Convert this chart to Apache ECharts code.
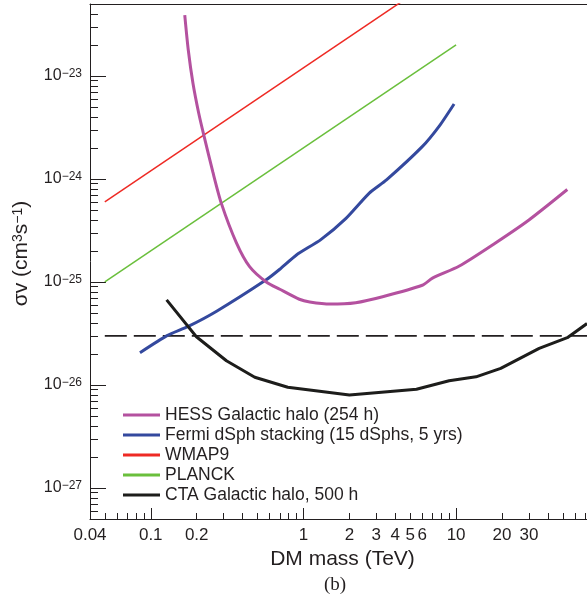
<!DOCTYPE html>
<html>
<head>
<meta charset="utf-8">
<script src="https://cdn.jsdelivr.net/npm/echarts@6/dist/echarts.min.js"></script>
<style>html,body{margin:0;padding:0;background:#fff}#c{width:587px;height:608px}</style>
</head>
<body>
<div id="c"></div>
<script>
// ---- data (x: DM mass in TeV, y: <sigma v> in cm^3 s^-1) ----
const hessX = [0.167, 0.176, 0.189, 0.206, 0.224, 0.255, 0.29, 0.364, 0.444, 0.571, 0.70, 0.94, 1.1, 1.5, 2.2, 3.3, 6.0, 7.0, 10.5, 18, 30, 53.5];
const hessY = [3.9e-23, 1.8e-23, 8.5e-24, 4.37e-24, 2.56e-24, 1.17e-24, 5.8e-25, 2.4e-25, 1.41e-25, 1.0e-25, 8.5e-26, 6.8e-26, 6.4e-26, 6.1e-26, 6.3e-26, 7.2e-26, 9.3e-26, 1.09e-25, 1.43e-25, 2.38e-25, 4.0e-25, 7.9e-25];

const fermiX = [0.085, 0.127, 0.176, 0.27, 0.57, 0.70, 0.90, 1.3, 1.9, 2.7, 3.5, 6.0, 7.8, 9.7];
const fermiY = [2.06e-26, 3.0e-26, 3.7e-26, 5.2e-26, 1.05e-25, 1.33e-25, 1.83e-25, 2.58e-25, 4.15e-25, 7.3e-25, 9.8e-25, 2.06e-24, 3.3e-24, 5.35e-24];

const wmapX = [0.05, 10];
const wmapY = [6e-25, 1.2e-22];

const planckX = [0.05, 10];
const planckY = [1e-25, 2e-23];

const ctaX = [0.127, 0.199, 0.313, 0.48, 0.79, 2.0, 5.5, 9.0, 13.5, 19.6, 35, 53.5, 72];
const ctaY = [6.7e-26, 2.94e-26, 1.72e-26, 1.19e-26, 9.5e-27, 8.0e-27, 9.1e-27, 1.1e-26, 1.2e-26, 1.45e-26, 2.27e-26, 2.88e-26, 3.95e-26];

const thermalX = [0.05, 100];
const thermalY = [3e-26, 3e-26];

const seriesNames = ['HESS Galactic halo (254 h)', 'Fermi dSph stacking (15 dSphs, 5 yrs)', 'WMAP9', 'PLANCK', 'CTA Galactic halo, 500 h'];

// ---- axes ----
const xMin = 0.04, xMax = 72;
const yMin = 5e-28, yMax = 5e-23;
const xLabelValues = [0.04, 0.1, 0.2, 1, 2, 3, 4, 5, 6, 10, 20, 30];
const xLabelTexts = ['0.04', '0.1', '0.2', '1', '2', '3', '4', '5', '6', '10', '20', '30'];
const xMajorTicks = [0.1, 1, 10];
const yMajorExp = [-27, -26, -25, -24, -23];

// y values are handed to the axis in units of 1e-28 cm^3 s^-1 (avoids float rounding in the log scale)
const YS = 1e28;
const sy = v => v * YS;

const xMinorTicks = [];
[0.01, 0.1, 1, 10].forEach(d => { for (let k = 2; k <= 9; k++) { const v = +(k * d).toPrecision(6); if (v > xMin && v < xMax && xMajorTicks.indexOf(v) < 0) xMinorTicks.push(v); } });
const yMajorTicks = yMajorExp.map(e => +(Math.pow(10, e + 28)).toPrecision(6));
const yMinorTicks = [];
for (let e = -28; e <= -23; e++) { for (let k = 2; k <= 9; k++) { const v = +(k * Math.pow(10, e + 28)).toPrecision(6); if (v > sy(yMin) * 0.999 && v < sy(yMax) * 0.999) yMinorTicks.push(v); } }

const pairs = (xs, ys) => xs.map((x, i) => [x, sy(ys[i])]);

const FONT = 'Liberation Sans, Arial, Helvetica, sans-serif';
const TXT = '#231f20';

const chart = echarts.init(document.getElementById('c'), null, { renderer: 'canvas' });

const baseX = { type: 'log', logBase: 10, min: xMin, max: xMax, gridIndex: 0, splitLine: { show: false } };
const baseY = { type: 'log', logBase: 10, min: sy(yMin), max: sy(yMax), gridIndex: 0, position: 'left', splitLine: { show: false } };

chart.setOption({
  animation: false,
  backgroundColor: '#fff',
  title: { text: '(b)', left: 330, top: 571, textAlign: 'center',
    textStyle: { fontFamily: 'Liberation Serif, DejaVu Serif, serif', fontSize: 19, fontWeight: 'normal', color: TXT } },
  grid: { left: 90, top: 4, right: 0, height: 515, show: false },
  legend: {
    orient: 'vertical', left: 118, top: 400, itemWidth: 37, itemHeight: 3, itemGap: 0, icon: 'rect',
    data: seriesNames,
    textStyle: { fontFamily: FONT, fontSize: 17.5, color: TXT, lineHeight: 20 }
  },
  xAxis: [
    Object.assign({}, baseX, {
      position: 'bottom',
      name: 'DM mass (TeV)', nameLocation: 'middle', nameGap: 30,
      nameTextStyle: { fontFamily: FONT, fontSize: 21, color: TXT, padding: [0, 0, 0, 8] },
      axisLine: { show: true, lineStyle: { color: '#231f20', width: 1 } },
      axisTick: { show: true, inside: true, length: 11, customValues: xMajorTicks, lineStyle: { color: '#231f20' } },
      axisLabel: { show: true, customValues: xLabelValues, margin: 8, fontFamily: FONT, fontSize: 17, color: TXT,
        formatter: v => { let bi = 0; xLabelValues.forEach((t, i) => { if (Math.abs(Math.log10(t / v)) < Math.abs(Math.log10(xLabelValues[bi] / v))) bi = i; }); return xLabelTexts[bi]; } }
    }),
    Object.assign({}, baseX, {
      position: 'bottom',
      axisLine: { show: false },
      axisTick: { show: true, inside: true, length: 6, customValues: xMinorTicks, lineStyle: { color: '#231f20' } },
      axisLabel: { show: false }
    }),
    Object.assign({}, baseX, {
      position: 'top',
      axisLine: { show: true, lineStyle: { color: '#231f20', width: 1 } },
      axisTick: { show: false },
      axisLabel: { show: false }
    })
  ],
  yAxis: [
    Object.assign({}, baseY, {
      name: '{a|σv (cm}{s|3}{a|s}{s|−1}{a|)}', nameLocation: 'middle', nameGap: 58, nameRotate: 90,
      nameTextStyle: { padding: [0, 0, 0, 16], rich: {
        a: { fontFamily: FONT, fontSize: 21, color: TXT, lineHeight: 21, verticalAlign: 'bottom' },
        s: { fontFamily: FONT, fontSize: 14, color: TXT, lineHeight: 14, verticalAlign: 'top', padding: [0, 0, 8, 0] }
      } },
      axisLine: { show: true, lineStyle: { color: '#231f20', width: 1 } },
      axisTick: { show: true, inside: true, length: 16, customValues: yMajorTicks, lineStyle: { color: '#231f20' } },
      axisLabel: { show: true, customValues: yMajorTicks, margin: 8,
        formatter: v => '{b|10}{s|−' + Math.abs(Math.round(Math.log10(v)) - 28) + '}',
        rich: {
          b: { fontFamily: FONT, fontSize: 16, color: TXT, lineHeight: 16, verticalAlign: 'bottom' },
          s: { fontFamily: FONT, fontSize: 12, color: TXT, lineHeight: 12, verticalAlign: 'top', padding: [0, 0, 8, 0] }
        } }
    }),
    Object.assign({}, baseY, {
      axisLine: { show: false },
      axisTick: { show: true, inside: true, length: 8, customValues: yMinorTicks, lineStyle: { color: '#231f20' } },
      axisLabel: { show: false }
    })
  ],
  series: [
    { name: 'PLANCK', type: 'line', data: pairs(planckX, planckY), symbol: 'none', lineStyle: { color: '#6abf3c', width: 1.5 }, itemStyle: { color: '#6abf3c' }, z: 2 },
    { name: 'WMAP9', type: 'line', data: pairs(wmapX, wmapY), symbol: 'none', lineStyle: { color: '#ee2a24', width: 1.5 }, itemStyle: { color: '#ee2a24' }, z: 2 },
    { name: 'thermal relic', type: 'line', data: pairs(thermalX, thermalY), symbol: 'none', lineStyle: { color: '#231f20', width: 1.8, type: [22, 7] }, itemStyle: { color: '#231f20' }, z: 2 },
    { name: 'Fermi dSph stacking (15 dSphs, 5 yrs)', type: 'line', data: pairs(fermiX, fermiY), symbol: 'none', smooth: 0.2, lineStyle: { color: '#34499e', width: 3 }, itemStyle: { color: '#34499e' }, z: 3 },
    { name: 'HESS Galactic halo (254 h)', type: 'line', data: pairs(hessX, hessY), symbol: 'none', smooth: 0.25, lineStyle: { color: '#b4519f', width: 3 }, itemStyle: { color: '#b4519f' }, z: 4 },
    { name: 'CTA Galactic halo, 500 h', type: 'line', data: pairs(ctaX, ctaY), symbol: 'none', lineStyle: { color: '#1d1d1b', width: 3 }, itemStyle: { color: '#1d1d1b' }, z: 5 }
  ]
});
</script>
</body>
</html>
